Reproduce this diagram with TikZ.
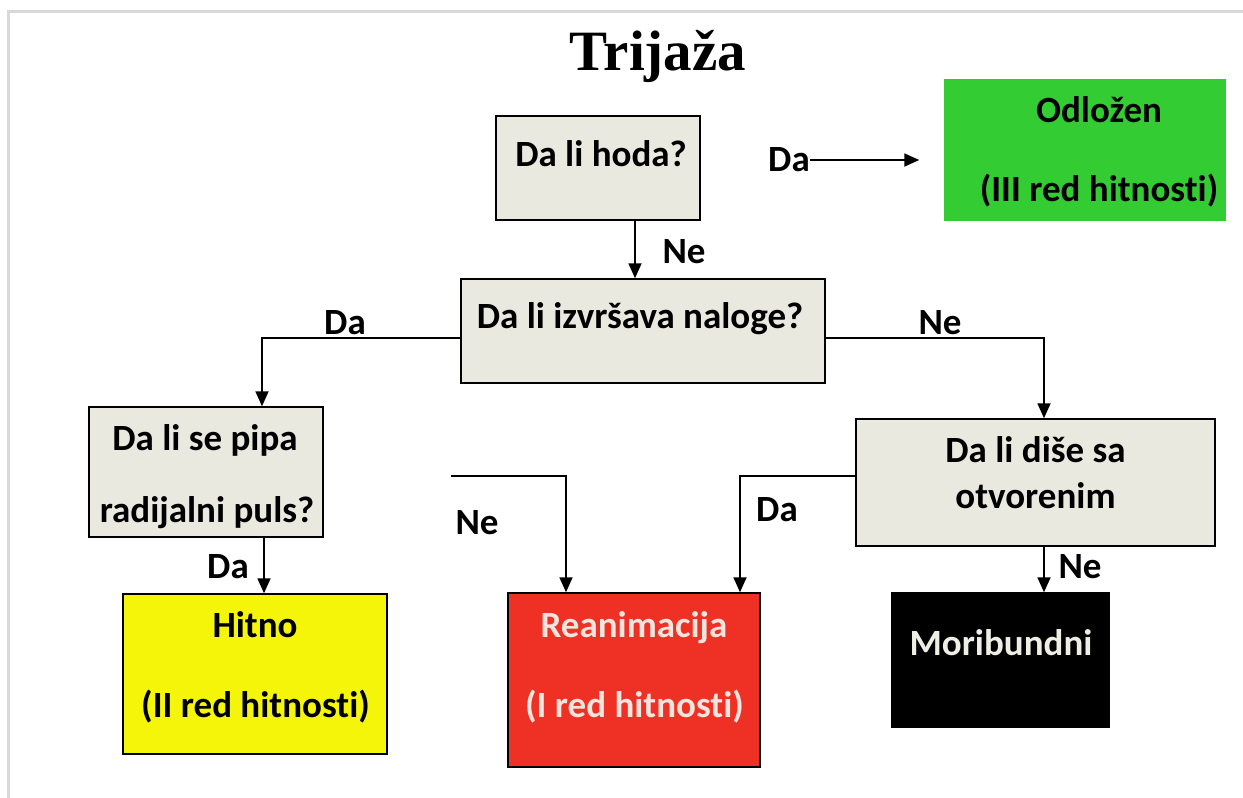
\documentclass[tikz,border=0pt]{standalone}
\usepackage{fontspec}
\setmainfont{Carlito}[Ligatures=NoCommon]
\newfontfamily\titlefont{Liberation Serif}
\usetikzlibrary{arrows.meta}
\definecolor{boxgray}{HTML}{E9E9E0}
\definecolor{okgreen}{HTML}{33CC33}
\definecolor{hityellow}{HTML}{F5F50A}
\definecolor{reared}{HTML}{EE3124}
\definecolor{reatext}{HTML}{F4E4DE}
\definecolor{moritext}{HTML}{EEEEE4}
\definecolor{framegray}{HTML}{D9D9D9}
\begin{document}
\begin{tikzpicture}[x=1pt,y=-1pt,
  box/.style={draw=black, line width=1.5pt, inner sep=0pt, rectangle},
  txt/.style={font=\bfseries\fontsize{37}{44}\selectfont, inner sep=0pt, anchor=base},
  lbl/.style={font=\bfseries\fontsize{37}{44}\selectfont, inner sep=0pt, anchor=base},
  arr/.style={line width=1.8pt, -{Triangle[length=15pt,width=13pt]}}]
\useasboundingbox (0,0) rectangle (1243,798);
\fill[white] (0,0) rectangle (1243,798);
\draw[framegray, line width=3pt] (8.5,798) -- (8.5,11) -- (1243,11);

% title
\node[inner sep=0pt, anchor=base, font=\titlefont\bfseries\fontsize{57}{62}\selectfont] (title) at (658,70) {Trijaža};

% boxes
\node[box, fill=boxgray, minimum width=204pt, minimum height=104pt] (hoda) at (598,168) {};
\node[box, draw=okgreen, fill=okgreen, minimum width=280pt, minimum height=140pt] (odl) at (1085,150) {};
\node[box, fill=boxgray, minimum width=364pt, minimum height=104pt] (izv) at (643,331) {};
\node[box, fill=boxgray, minimum width=234pt, minimum height=130pt] (pipa) at (206,472) {};
\node[box, fill=boxgray, minimum width=359pt, minimum height=127pt] (dise) at (1035.5,482.5) {};
\node[box, fill=hityellow, minimum width=264pt, minimum height=160pt] (hitno) at (255,674) {};
\node[box, fill=reared, minimum width=252pt, minimum height=174pt] (rean) at (634,680) {};
\node[box, fill=black, minimum width=217pt, minimum height=134pt] (mori) at (1000.5,660) {};

% box texts
\node[txt] (hodaT) at (601,166) {Da li hoda?};
\node[txt] (odlT1) at (1099,122) {Odložen};
\node[txt] (odlT2) at (1099,201) {(III red hitnosti)};
\node[txt] (izvT) at (640,328) {Da li izvršava naloge?};
\node[txt] (pipaT1) at (205,450) {Da li se pipa};
\node[txt] (pipaT2) at (207,522) {radijalni puls?};
\node[txt] (diseT1) at (1035.5,462) {Da li diše sa};
\node[txt] (diseT2) at (1035.5,508) {otvorenim};
\node[txt] (hitnoT1) at (255,637) {Hitno};
\node[txt] (hitnoT2) at (255.5,717) {(II red hitnosti)};
\node[txt, text=reatext] (reanT1) at (634,637) {Reanimacija};
\node[txt, text=reatext] (reanT2) at (634.5,717) {(I red hitnosti)};
\node[txt, text=moritext] (moriT) at (1001,655) {Moribundni};

% labels
\node[lbl] (neHoda) at (684,263) {Ne};
\node[lbl, anchor=base east] (daOdl) at (810,171) {Da};
\node[lbl] (daIzv) at (345,334) {Da};
\node[lbl] (neIzv) at (940,334) {Ne};
\node[lbl] (daPipa) at (228,578) {Da};
\node[lbl] (nePipa) at (477,534) {Ne};
\node[lbl] (daDise) at (777,521) {Da};
\node[lbl] (neDise) at (1080,578) {Ne};

% connectors
\draw[arr] ([xshift=37pt]hoda.south) -- ([xshift=37pt]hoda.south |- izv.north);
\draw[arr, shorten >=25pt] ([yshift=11pt]daOdl.base east) -- ([yshift=11pt]daOdl.base east -| odl.west);
\draw[arr] ([yshift=-7pt]izv.west) -| ([xshift=56pt]pipa.north);
\draw[arr] ([yshift=-7pt]izv.east) -| ([xshift=8.5pt]dise.north);
\draw[arr] ([xshift=58pt]pipa.south) -- ([xshift=58pt]pipa.south |- hitno.north);
\coordinate (free) at (451,476);
\draw[arr] (free) -| ([xshift=-68pt]rean.north);
\draw[arr] ([yshift=6.5pt]dise.west) -| ([xshift=106pt]rean.north);
\draw[arr] ([xshift=8.5pt]dise.south) -- ([xshift=8.5pt]dise.south |- mori.north);
\end{tikzpicture}
\end{document}
